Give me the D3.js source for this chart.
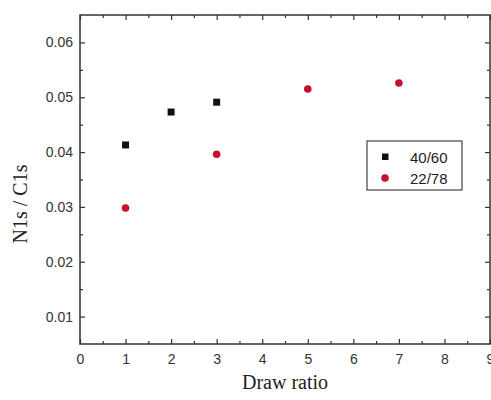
<!DOCTYPE html>
<html>
<head>
<meta charset="utf-8">
<title>N1s / C1s vs draw ratio</title>
<script src="https://d3js.org/d3.v7.min.js"></script>
<style>
  body { margin: 0; background: #fff; }
</style>
</head>
<body>
<svg id="chart" width="491" height="400"></svg>
<script>
// data
var drawRatio4060 = [1, 2, 3];
var ratio4060 = [0.0413, 0.0473, 0.0491];
var drawRatio2278 = [1, 3, 5, 7];
var ratio2278 = [0.0298, 0.0396, 0.0515, 0.0526];
var seriesNames = ['40/60', '22/78'];
var xTicks = [0, 1, 2, 3, 4, 5, 6, 7, 8, 9];
var yTicks = [0.01, 0.02, 0.03, 0.04, 0.05, 0.06];

var svg = d3.select('#chart');
var plotLeft = 80, plotRight = 490, plotTop = 15, plotBottom = 344;

var x = d3.scaleLinear().domain([0, 9]).range([plotLeft, plotRight]);
var y = d3.scaleLinear().domain([0.005, 0.065]).range([plotBottom, plotTop]);

var xMinor = d3.range(0.5, 9, 1);
var yMinor = d3.range(0.015, 0.065, 0.01);

// frame
svg.append('rect')
  .attr('x', plotLeft).attr('y', plotTop)
  .attr('width', plotRight - plotLeft).attr('height', plotBottom - plotTop)
  .attr('fill', 'none').attr('stroke', '#333').attr('stroke-width', 1.5);

function axisLines(axis) {
  axis.select('.domain').remove();
  axis.selectAll('.tick line').attr('stroke', '#333').attr('stroke-width', 1.2);
  axis.selectAll('.tick text')
    .attr('font-family', '"Liberation Sans", Arial, sans-serif')
    .attr('font-size', 14)
    .attr('fill', '#333');
}

// bottom axis (ticks inward)
svg.append('g').attr('transform', 'translate(0,' + plotBottom + ')')
  .call(d3.axisBottom(x).tickValues(xTicks).tickFormat(d3.format('d')).tickSizeInner(-5).tickPadding(10))
  .call(axisLines);
svg.append('g').attr('transform', 'translate(0,' + plotBottom + ')')
  .call(d3.axisBottom(x).tickValues(xMinor).tickFormat('').tickSizeInner(-3))
  .call(axisLines);
// top axis
svg.append('g').attr('transform', 'translate(0,' + plotTop + ')')
  .call(d3.axisTop(x).tickValues(xTicks).tickFormat('').tickSizeInner(-5))
  .call(axisLines);
svg.append('g').attr('transform', 'translate(0,' + plotTop + ')')
  .call(d3.axisTop(x).tickValues(xMinor).tickFormat('').tickSizeInner(-3))
  .call(axisLines);
// left axis
svg.append('g').attr('transform', 'translate(' + plotLeft + ',0)')
  .call(d3.axisLeft(y).tickValues(yTicks).tickFormat(d3.format('.2f')).tickSizeInner(-5).tickPadding(7))
  .call(axisLines);
svg.append('g').attr('transform', 'translate(' + plotLeft + ',0)')
  .call(d3.axisLeft(y).tickValues(yMinor).tickFormat('').tickSizeInner(-3))
  .call(axisLines);
// right axis
svg.append('g').attr('transform', 'translate(' + plotRight + ',0)')
  .call(d3.axisRight(y).tickValues(yTicks).tickFormat('').tickSizeInner(-5))
  .call(axisLines);
svg.append('g').attr('transform', 'translate(' + plotRight + ',0)')
  .call(d3.axisRight(y).tickValues(yMinor).tickFormat('').tickSizeInner(-3))
  .call(axisLines);

// points
svg.append('g').selectAll('rect')
  .data(d3.zip(drawRatio4060, ratio4060))
  .join('rect')
  .attr('x', function(d) { return x(d[0]) - 3.5; })
  .attr('y', function(d) { return y(d[1]) - 3.5; })
  .attr('width', 7).attr('height', 7)
  .attr('fill', '#111');

svg.append('g').selectAll('circle')
  .data(d3.zip(drawRatio2278, ratio2278))
  .join('circle')
  .attr('cx', function(d) { return x(d[0]); })
  .attr('cy', function(d) { return y(d[1]); })
  .attr('r', 3.8)
  .attr('fill', '#c8102e');

// legend
var lg = svg.append('g');
lg.append('rect')
  .attr('x', 367).attr('y', 141).attr('width', 95).attr('height', 49)
  .attr('fill', '#fff').attr('stroke', '#444').attr('stroke-width', 1.2);
lg.append('rect').attr('x', 382).attr('y', 153.5).attr('width', 6.5).attr('height', 6.5).attr('fill', '#111');
lg.append('circle').attr('cx', 385).attr('cy', 178).attr('r', 3.8).attr('fill', '#c8102e');
lg.selectAll('text.lab')
  .data(seriesNames)
  .join('text')
  .attr('class', 'lab')
  .attr('x', 410)
  .attr('y', function(d, i) { return 163 + i * 21; })
  .attr('font-family', '"Liberation Sans", Arial, sans-serif')
  .attr('font-size', 15)
  .attr('fill', '#222')
  .text(function(d) { return d; });

// axis titles
svg.append('text')
  .attr('x', (plotLeft + plotRight) / 2).attr('y', 389)
  .attr('text-anchor', 'middle')
  .attr('font-family', '"Liberation Serif", "Times New Roman", serif')
  .attr('font-size', 20)
  .attr('fill', '#222')
  .text('Draw ratio');

svg.append('text')
  .attr('transform', 'translate(27,204) rotate(-90)')
  .attr('text-anchor', 'middle')
  .attr('font-family', '"Liberation Serif", "Times New Roman", serif')
  .attr('font-size', 20)
  .attr('fill', '#222')
  .text('N1s / C1s');
</script>
</body>
</html>
